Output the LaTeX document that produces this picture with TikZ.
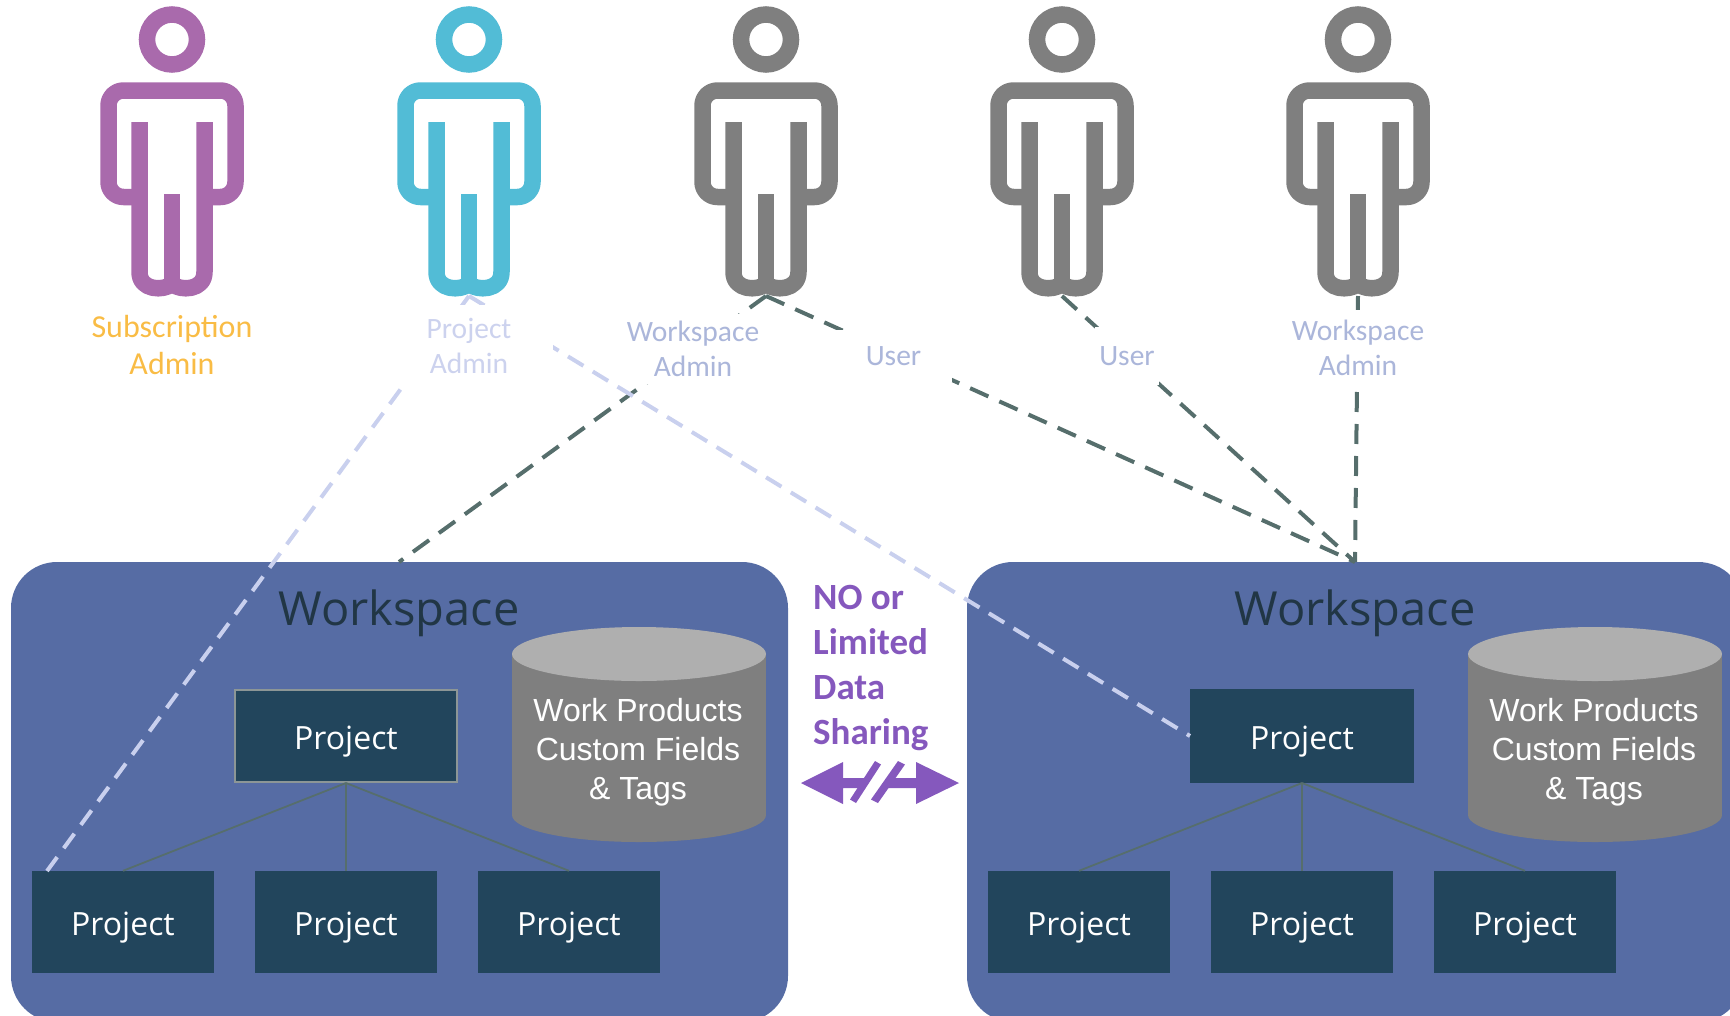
\documentclass[tikz,border=0pt]{standalone}
\usepackage{fontspec}
\setmainfont{Open Sans}
\newfontfamily\calfont{Carlito}
\newfontfamily\arialfont{Liberation Sans}
\definecolor{wsblue}{HTML}{566CA4}
\definecolor{prjblue}{HTML}{22455C}
\definecolor{wsdark}{HTML}{213645}
\definecolor{lite}{HTML}{C9D0EE}
\definecolor{darkdash}{HTML}{566E6C}
\definecolor{lbl}{HTML}{ABB6DA}
\definecolor{lblpale}{HTML}{CCD2EE}
\definecolor{gold}{HTML}{F9BC45}
\definecolor{ppl}{HTML}{A96AAC}
\definecolor{cyn}{HTML}{52BCD6}
\definecolor{gry}{HTML}{7F7F7F}
\definecolor{cyltop}{HTML}{AFAFAF}
\definecolor{vio}{HTML}{8558BD}
\definecolor{edgegray}{HTML}{8C9696}
\tikzset{
  wsbox/.style={fill=wsblue,rounded corners=46pt},
  prj/.style={fill=prjblue,text=white,minimum width=182pt,minimum height=102pt,inner sep=0pt,font=\fontsize{32}{38}\selectfont},
  prjtop/.style={prj,minimum width=222pt,minimum height=92pt,draw=#1,line width=2pt},
  wstitle/.style={text=wsdark,inner sep=0pt,font=\fontsize{47}{54}\selectfont},
  cyltext/.style={text=white,inner sep=0pt,align=center,font=\arialfont\fontsize{32}{39}\selectfont},
  role/.style={fill=white,inner sep=0pt,align=center,text=lbl,font=\calfont\fontsize{29.5}{35}\selectfont},
  litedash/.style={draw=lite,line width=4pt,dash pattern=on 18pt off 11pt},
  darkdashline/.style={draw=darkdash,line width=4pt,dash pattern=on 20pt off 12pt},
  tree/.style={draw=darkdash,line width=1.8pt},
  figline/.style={line width=16.5pt,line cap=butt,line join=round}
}
\newcommand{\persona}[2]{%
  \begin{scope}[shift={(#1,0)}]
    \draw[#2,line width=16.5pt] (0,39.5) circle[radius=25pt];
    \draw[#2,figline,rounded corners=15pt] (-40,197) -- (-63.5,197) -- (-63.5,90.5) -- (63.5,90.5) -- (63.5,197) -- (40,197);
    \draw[#2,figline] (-32.5,122) -- (-32.5,272) .. controls (-32.5,291) and (-8,291) .. (0,284)
       .. controls (8,291) and (32.5,291) .. (32.5,272) -- (32.5,122);
    \draw[#2,figline] (0,194) -- (0,286);
  \end{scope}}
\newcommand{\prjlabel}{\raisebox{-13.5pt}[0pt][0pt]{Project}}
\newcommand{\workspace}[3]{%
  \begin{scope}[shift={(#1,0)}]
    \fill[wsbox] (11,562) rectangle (788,1022);
    \fill[gry] (512,654) rectangle (766,815);
    \fill[gry] (639,815) ellipse[x radius=127pt,y radius=27pt];
    \fill[cyltop] (639,654) ellipse[x radius=127pt,y radius=27pt];
    \node[wstitle] (#2t) at (399,613) {Workspace};
    \node[cyltext] (#2c) at (638,752) {Work Products\\Custom Fields\\\& Tags};
    \node[prjtop=#3] (#2p) at (346,736) {\prjlabel};
    \node[prj] (#2a) at (123,922) {\prjlabel};
    \node[prj] (#2b) at (346,922) {\prjlabel};
    \node[prj] (#2d) at (569,922) {\prjlabel};
    \draw[tree] (#2p.south) -- (#2a.north);
    \draw[tree] (#2p.south) -- (#2b.north);
    \draw[tree] (#2p.south) -- (#2d.north);
  \end{scope}}
\begin{document}
\begin{tikzpicture}[x=1pt,y=-1pt]
\useasboundingbox (0,0) rectangle (1730,1015);
\clip (0,0) rectangle (1730,1015);
\persona{172}{ppl}
\persona{469}{cyn}
\persona{766}{gry}
\persona{1062}{gry}
\persona{1358}{gry}
\coordinate (f2) at (469,296);
\coordinate (f3) at (766,296);
\coordinate (f4) at (1062,296);
\coordinate (f5) at (1358,296);
\workspace{0}{L}{edgegray}
\workspace{956}{R}{prjblue}
\coordinate (wsL) at (399,562);
\coordinate (wsR) at (1355,562);
\coordinate (lo) at (47,871);
% connectors
\draw[darkdashline] (f3) -- (wsL);
\draw[darkdashline] (f3) -- (wsR);
\draw[darkdashline] (f4) -- (wsR);
\draw[darkdashline] (f5) -- (wsR);
\draw[litedash] (f2) -- (lo);
\draw[litedash] (f2) -- (Rp.west);
% labels
\node[font=\calfont\fontsize{32}{37.5}\selectfont,text=gold,align=center,inner sep=0pt] (n1) at (172,345) {Subscription\\Admin};
\node[role,text=lblpale,minimum width=168pt,minimum height=82pt] (n2) at (469,346) {Project\\Admin};
\node[role,minimum width=132pt,minimum height=70pt] (n3) at (693,349) {Workspace\\Admin};
\node[role,minimum width=117pt,minimum height=52pt] (n4) at (893.5,356) {User};
\node[role,minimum width=64pt,minimum height=58pt] (n5) at (1127,356) {User};
\node[role,minimum width=136pt,minimum height=75pt] (n6) at (1358,347.5) {Workspace\\Admin};
% no-sharing
\node[anchor=north west,inner sep=0pt,align=left,text=vio,font=\calfont\bfseries\fontsize{37}{45}\selectfont] (ns) at (813,585) {NO or\\Limited\\Data\\Sharing};
\fill[vio] (801,783) -- (843,762) -- (843,778) -- (916,778) -- (916,762) -- (959,783) -- (916,804) -- (916,788) -- (843,788) -- (843,804) -- cycle;
\fill[white] (879,762) -- (899,762) -- (874,803) -- (854,803) -- cycle;
\fill[vio] (875,761) -- (881,764.5) -- (856,803) -- (850,799.5) -- cycle;
\fill[vio] (898,761) -- (905,764.5) -- (878,803) -- (871,799.5) -- cycle;
\end{tikzpicture}
\end{document}
